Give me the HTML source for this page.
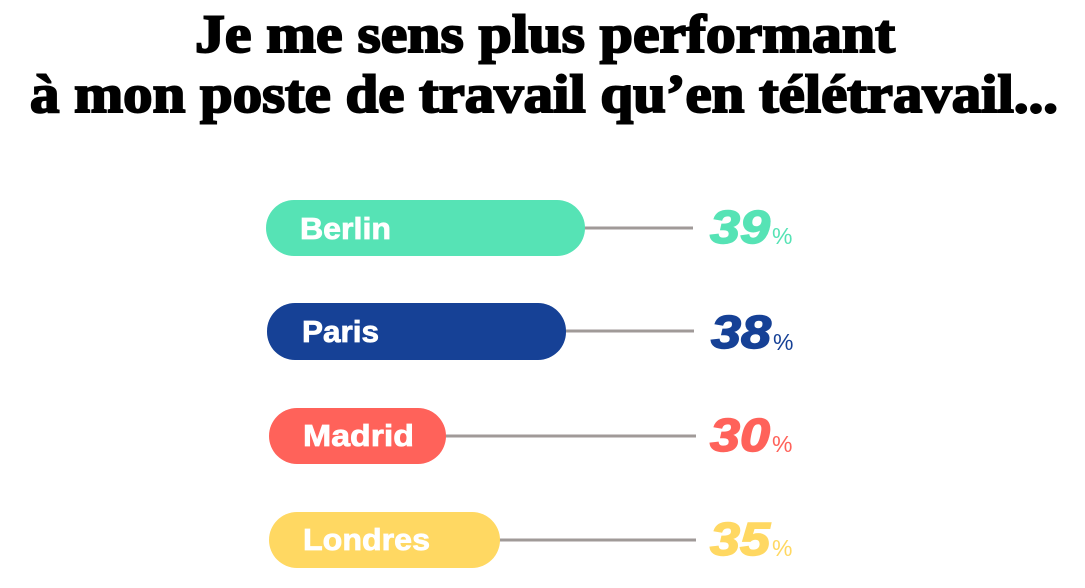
<!DOCTYPE html>
<html><head><meta charset="utf-8"><style>
html,body{margin:0;padding:0;background:#fff;width:1085px;height:588px;overflow:hidden}
</style></head><body>
<svg width="1085" height="588" xmlns="http://www.w3.org/2000/svg">
<g font-family="Liberation Serif, serif" font-weight="bold" fill="#000" stroke="#000" stroke-width="2">
<text x="195" y="52" font-size="54" textLength="700" lengthAdjust="spacingAndGlyphs">Je me sens plus performant</text>
<text x="30" y="112" font-size="54" textLength="1028" lengthAdjust="spacingAndGlyphs">à mon poste de travail qu’en télétravail...</text>
</g>
<g stroke="#a09a98" stroke-width="3">
<line x1="580" y1="228" x2="693" y2="228"/>
<line x1="560" y1="331" x2="694" y2="331"/>
<line x1="440" y1="436" x2="696" y2="436"/>
<line x1="495" y1="540" x2="696" y2="540"/>
</g>
<rect x="266" y="200" width="319" height="56" rx="28" fill="#56e3b5"/>
<rect x="267" y="303" width="299" height="57" rx="28" fill="#164196"/>
<rect x="269" y="408" width="177" height="56" rx="28" fill="#ff625a"/>
<rect x="269" y="512" width="231" height="56" rx="28" fill="#ffd862"/>
<g font-family="Liberation Sans, sans-serif" font-weight="bold" fill="#fff" stroke="#fff" stroke-width="0.8" font-size="31">
<text x="300" y="239" textLength="91" lengthAdjust="spacingAndGlyphs">Berlin</text>
<text x="302" y="342" textLength="77" lengthAdjust="spacingAndGlyphs">Paris</text>
<text x="303" y="446" textLength="111" lengthAdjust="spacingAndGlyphs">Madrid</text>
<text x="303" y="550" textLength="127" lengthAdjust="spacingAndGlyphs">Londres</text>
</g>
<g font-family="Liberation Sans, sans-serif" font-weight="bold" font-style="italic" font-size="46" stroke-width="1.5">
<text x="710" y="243" fill="#56e3b5" stroke="#56e3b5" textLength="60" lengthAdjust="spacingAndGlyphs">39</text>
<text x="711" y="348" fill="#164196" stroke="#164196" textLength="60" lengthAdjust="spacingAndGlyphs">38</text>
<text x="710" y="451" fill="#ff625a" stroke="#ff625a" textLength="60" lengthAdjust="spacingAndGlyphs">30</text>
<text x="710" y="555" fill="#ffd862" stroke="#ffd862" textLength="60" lengthAdjust="spacingAndGlyphs">35</text>
</g>
<g font-family="Liberation Sans, sans-serif" font-size="23">
<text x="772" y="244" fill="#56e3b5">%</text>
<text x="773" y="350" fill="#164196">%</text>
<text x="772" y="452" fill="#ff625a">%</text>
<text x="772" y="556" fill="#ffd862">%</text>
</g>
</svg>
</body></html>
